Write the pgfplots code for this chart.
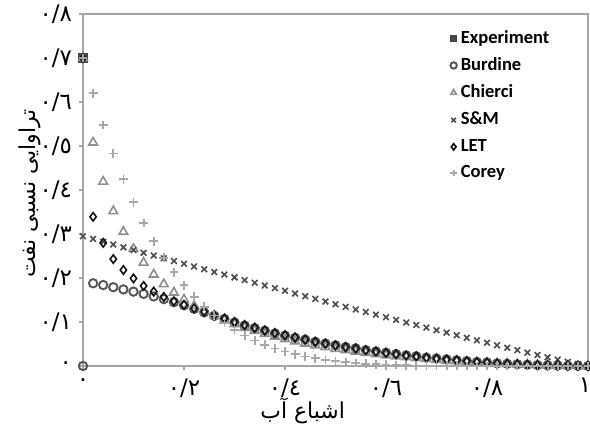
\documentclass[border=0pt]{standalone}
\usepackage{fontspec}
\usepackage{pgfplots}
\pgfplotsset{compat=1.18}
\usepackage{pgfplotstable}
\TeXXeTstate=1
\newfontfamily\arabicfont[Script=Arabic]{DejaVu Sans}
\newfontfamily\calib{Carlito}

\definecolor{axgray}{HTML}{A6A6A6}
\definecolor{expc}{HTML}{474747}
\definecolor{burc}{HTML}{555555}
\definecolor{chic}{HTML}{8F8F8F}
\definecolor{smc}{HTML}{4D4D4D}
\definecolor{letc}{HTML}{141414}
\definecolor{corc}{HTML}{A8A8A8}

% x = water saturation, columns: Burdine, Chierci, S&M, LET, Corey
\pgfplotstableread{
x    bur     chi     sm      let     cor
0.00 0.000   0.700   0.295   0.700   0.700
0.02 0.188   0.508   0.2887  0.339   0.6201
0.04 0.184   0.419   0.2824  0.280   0.5479
0.06 0.179   0.352   0.2761  0.243   0.4829
0.08 0.174   0.305   0.2698  0.218   0.4244
0.10 0.169   0.266   0.2636  0.199   0.3720
0.12 0.164   0.235   0.2573  0.182   0.3251
0.14 0.158   0.208   0.2510  0.169   0.2832
0.16 0.152   0.186   0.2448  0.157   0.2459
0.18 0.145   0.167   0.2386  0.147   0.2128
0.20 0.138   0.151   0.2323  0.139   0.1835
0.22 0.130   0.137   0.2261  0.131   0.1576
0.24 0.122   0.125   0.2199  0.123   0.1349
0.26 0.114   0.114   0.2137  0.115   0.1149
0.28 0.107   0.104   0.2076  0.108   0.0975
0.30 0.099   0.095   0.2014  0.100   0.0824
0.32 0.092   0.087   0.1953  0.093   0.0692
0.34 0.086   0.080   0.1891  0.087   0.0579
0.36 0.080   0.073   0.1830  0.081   0.0481
0.38 0.074   0.067   0.1769  0.075   0.0398
0.40 0.069   0.061   0.1708  0.070   0.0327
0.42 0.064   0.056   0.1647  0.065   0.0266
0.44 0.060   0.051   0.1586  0.060   0.0216
0.46 0.055   0.047   0.1526  0.055   0.0174
0.48 0.051   0.043   0.1465  0.051   0.0138
0.50 0.047   0.039   0.1405  0.047   0.0109
0.52 0.043   0.036   0.1345  0.043   0.0086
0.54 0.040   0.033   0.1285  0.040   0.0066
0.56 0.036   0.030   0.1226  0.036   0.0051
0.58 0.033   0.027   0.1166  0.033   0.0038
0.60 0.030   0.024   0.1107  0.030   0.0029
0.62 0.027   0.022   0.1048  0.027   0.0021
0.64 0.024   0.020   0.0989  0.024   0.0015
0.66 0.022   0.018   0.0930  0.022   0.0011
0.68 0.019   0.016   0.0872  0.019   0.0008
0.70 0.017   0.014   0.0813  0.017   0.0005
0.72 0.015   0.012   0.0756  0.015   0.0003
0.74 0.013   0.011   0.0698  0.013   0.0002
0.76 0.011   0.009   0.0641  0.011   0.0001
0.78 0.009   0.008   0.0584  0.009   0.0000
0.80 0.008   0.007   0.0527  0.008   0.0000
0.82 0.006   0.006   0.0471  0.006   0.0000
0.84 0.005   0.005   0.0415  0.005   0.0000
0.86 0.004   0.004   0.0360  0.004   0.0000
0.88 0.003   0.003   0.0305  0.003   0.0000
0.90 0.002   0.002   0.0251  0.002   0.0000
0.92 0.0015  0.0015  0.0198  0.0015  0.0000
0.94 0.001   0.001   0.0145  0.001   0.0000
0.96 0.0005  0.0005  0.0094  0.0005  0.0000
0.98 0.0002  0.0002  0.0045  0.0002  0.0000
1.00 0.000   0.000   0.000   0.000   0.0000
}\krotab

\pgfplotsset{
  legmark/.style={legend image code/.code={\draw[##1, mark size=1.6bp] plot coordinates {(0.1cm,0cm)};}},
}

\begin{document}
\begin{tikzpicture}
\begin{axis}[
    name=ax,
    scale only axis, width=252.5bp, height=176bp,
    xmin=0, xmax=1, ymin=0, ymax=0.8,
    xtick={0,0.2,0.4,0.6,0.8,1},
    xticklabels={٠, ٠/٢, ٠/٤, ٠/٦, ٠/٨, \makebox[0pt][c]{١\hspace{3bp}}},
    ytick={0,0.1,0.2,0.3,0.4,0.5,0.6,0.7,0.8},
    yticklabels={٠, ٠/١, ٠/٢, ٠/٣, ٠/٤, ٠/٥, ٠/٦, ٠/٧, ٠/٨},
    xtick pos=lower, ytick pos=left,
    tick align=outside, major tick length=2bp,
    axis line style={axgray, line width=0.75bp},
    tick style={axgray, line width=0.6bp},
    tick label style={font=\arabicfont\fontsize{11.5}{13}\selectfont},
    xticklabel style={inner sep=0pt, yshift=-4bp},
    xlabel={\beginR اشباع آب\endR},
    ylabel={\beginR تراوایی نسبی نفت\endR},
    label style={font=\arabicfont\fontsize{11}{13}\selectfont},
    xlabel style={at={(axis description cs:0.435,-0.128)}, anchor=center, inner sep=0pt},
    ylabel style={at={(axis description cs:-0.105,0.49)}, anchor=center},
    legend style={at={(axis description cs:0.715,0.978)}, anchor=north west,
      draw=none, fill=none, row sep=1.7bp,
      font=\calib\bfseries\fontsize{9.3}{11}\selectfont},
    legend cell align=left,
  ]
  \addplot[only marks, legmark, mark=square*, mark size=2.1bp, color=expc]
    coordinates {(0,0.7)};
  \addlegendentry{Experiment}
  \addplot[only marks, legmark, mark=o, mark size=2.1bp, line width=0.95bp, color=burc]
    table[x=x, y=bur] {\krotab};
  \addlegendentry{Burdine}
  \addplot[only marks, legmark, mark=triangle, mark size=2.5bp, line width=0.8bp, color=chic]
    table[x=x, y=chi] {\krotab};
  \addlegendentry{Chierci}
  \addplot[only marks, legmark, mark=x, mark size=2bp, line width=0.8bp, color=smc]
    table[x=x, y=sm] {\krotab};
  \addlegendentry{S\&M}
  \addplot[only marks, legmark, mark=diamond, mark size=2.1bp, line width=0.8bp, color=letc]
    table[x=x, y=let] {\krotab};
  \addlegendentry{LET}
  \addplot[only marks, legmark, mark=+, mark size=2.2bp, line width=0.9bp, color=corc]
    table[x=x, y=cor] {\krotab};
  \addlegendentry{Corey}
\end{axis}
\pgfresetboundingbox
\path ([shift={(-41.5bp,-33bp)}]ax.south west) rectangle ([shift={(1bp,7bp)}]ax.north east);
\end{tikzpicture}
\end{document}
